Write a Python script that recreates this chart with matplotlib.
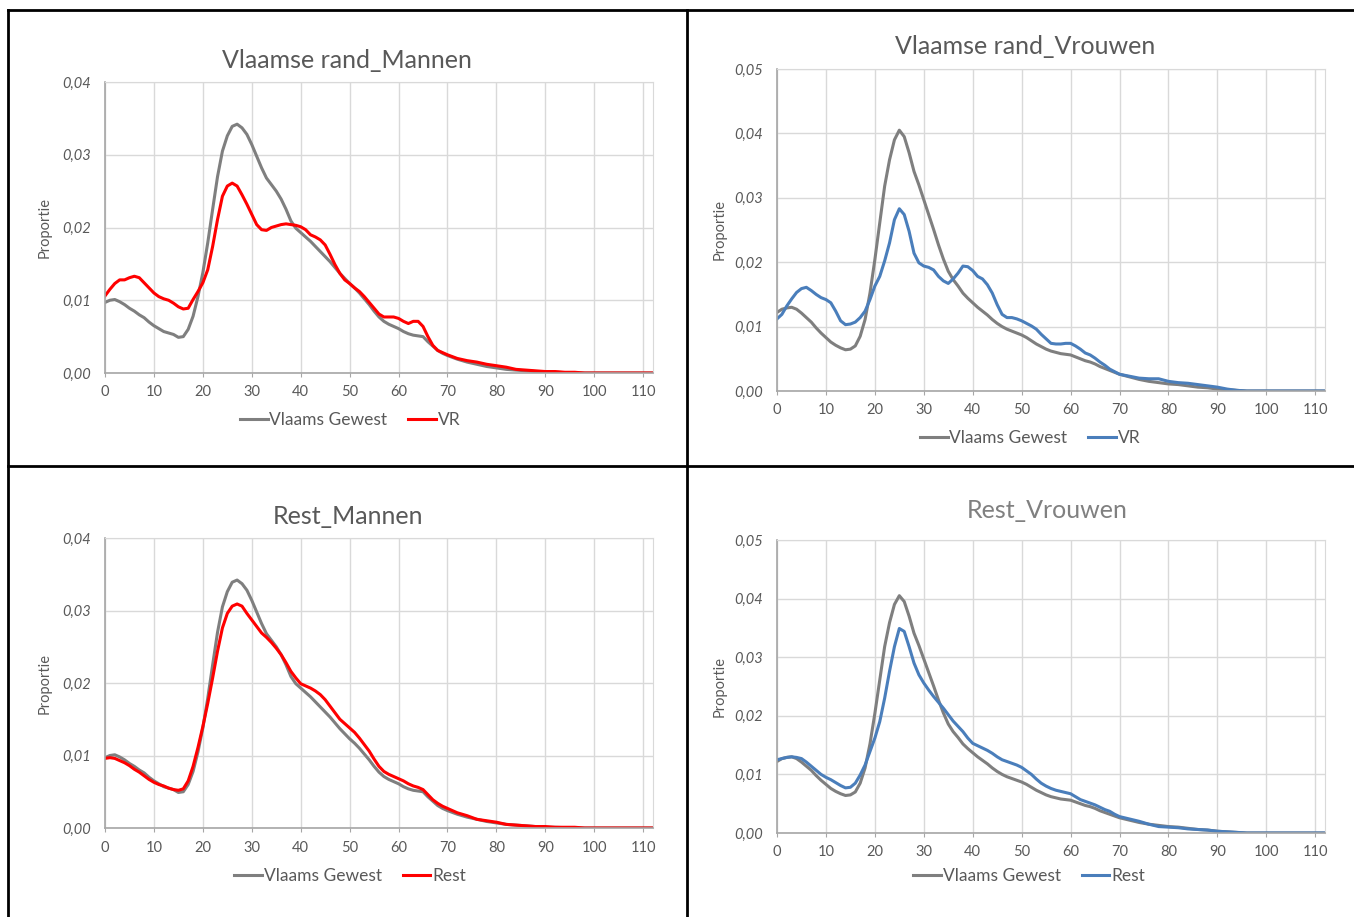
import numpy as np
import matplotlib
matplotlib.use("Agg")
import matplotlib.pyplot as plt
from matplotlib.lines import Line2D
from matplotlib.ticker import FuncFormatter, MultipleLocator

plt.rcParams["font.family"] = ["Lato", "DejaVu Sans"]

# -----------------------------
# Data
# -----------------------------
ages = list(range(0, 71)) + list(range(72, 101, 2)) + [105, 112]

vg_mannen = [
    .0097, .0100, .0101, .0098, .0094, .0089, .0085, .0080, .0076, .0070,
    .0065, .0061, .0057, .0055, .0053, .0049, .0050, .0060, .0078, .0105,
    .0138, .0179, .0225, .0270, .0305, .0326, .0339, .0342, .0337, .0328,
    .0314, .0298, .0282, .0268, .0259, .0250, .0239, .0225, .0209, .0199,
    .0193, .0187, .0181, .0174, .0167, .0160, .0153, .0145, .0137, .0130,
    .0123, .0117, .0110, .0102, .0094, .0085, .0077, .0071, .0067, .0064,
    .0061, .0057, .0054, .0052, .0051, .0050, .0043, .0037, .0031, .0027,
    .0024,
    .0019, .0015, .0012, .0009, .0007, .0005, .0004, .0003, .0002, .0001,
    .0001, .00005, .00003, 0, 0, 0, 0]

vr_mannen = [
    .0106, .0115, .0123, .0128, .0128, .0131, .0133, .0131, .0124, .0117,
    .0110, .0105, .0102, .0100, .0096, .0091, .0088, .0089, .0101, .0112,
    .0124, .0142, .0174, .0211, .0243, .0257, .0261, .0257, .0245, .0232,
    .0218, .0204, .0197, .0196, .0200, .0202, .0204, .0205, .0204, .0203,
    .0201, .0197, .0190, .0187, .0183, .0176, .0163, .0149, .0137, .0128,
    .0123, .0117, .0112, .0105, .0097, .0089, .0081, .0077, .0077, .0077,
    .0075, .0071, .0068, .0071, .0071, .0064, .0050, .0038, .0031, .0028,
    .0025,
    .0020, .0017, .0015, .0012, .0010, .0008, .0005, .0004, .0003, .0002,
    .0002, .0001, .0001, 0, 0, 0, 0]

rest_mannen = [
    .0096, .0097, .0096, .0093, .0090, .0086, .0081, .0077, .0072, .0067,
    .0063, .0060, .0058, .0055, .0053, .0052, .0054, .0065, .0085, .0111,
    .0140, .0172, .0207, .0244, .0276, .0296, .0306, .0309, .0306, .0296,
    .0287, .0278, .0269, .0263, .0256, .0248, .0239, .0228, .0216, .0207,
    .0199, .0196, .0193, .0189, .0184, .0177, .0168, .0159, .0150, .0144,
    .0138, .0132, .0124, .0115, .0106, .0095, .0085, .0078, .0074, .0071,
    .0068, .0065, .0061, .0058, .0056, .0053, .0046, .0039, .0034, .0030,
    .0027,
    .0021, .0017, .0012, .0010, .0008, .0005, .0004, .0003, .0002, .0002,
    .0001, .0001, .0001, 0, 0, 0, 0]

vg_vrouwen = [
    .0122, .0127, .0129, .0130, .0127, .0121, .0114, .0107, .0098, .0090,
    .0083, .0076, .0071, .0067, .0064, .0065, .0070, .0085, .0111, .0152,
    .0204, .0261, .0318, .0359, .0390, .0405, .0395, .0370, .0341, .0320,
    .0297, .0274, .0251, .0227, .0205, .0186, .0173, .0163, .0152, .0144,
    .0137, .0130, .0124, .0118, .0111, .0105, .0100, .0096, .0093, .0090,
    .0087, .0083, .0078, .0073, .0069, .0065, .0062, .0060, .0058, .0057,
    .0056, .0053, .0050, .0047, .0045, .0042, .0038, .0035, .0032, .0029,
    .0026,
    .0022, .0018, .0015, .0013, .0011, .0010, .0008, .0006, .0005, .0003,
    .0002, .0001, 0, 0, 0, 0, 0]

vr_vrouwen = [
    .0112, .0119, .0132, .0143, .0153, .0159, .0161, .0156, .0150, .0145,
    .0142, .0137, .0124, .0109, .0103, .0104, .0107, .0114, .0124, .0142,
    .0163, .0178, .0202, .0230, .0266, .0283, .0274, .0248, .0214, .0199,
    .0194, .0192, .0188, .0178, .0171, .0167, .0174, .0183, .0194, .0193,
    .0187, .0178, .0174, .0165, .0152, .0134, .0119, .0114, .0114, .0112,
    .0109, .0105, .0101, .0096, .0088, .0081, .0074, .0073, .0073, .0074,
    .0074, .0070, .0065, .0059, .0056, .0051, .0045, .0040, .0034, .0030,
    .0026,
    .0023, .0020, .0019, .0019, .0015, .0013, .0012, .0010, .0008, .0006,
    .0003, .0001, 0, 0, 0, 0, 0]

rest_vrouwen = [
    .0125, .0127, .0129, .0130, .0129, .0127, .0121, .0114, .0107, .0100,
    .0095, .0091, .0086, .0081, .0077, .0078, .0085, .0099, .0116, .0139,
    .0162, .0190, .0230, .0276, .0318, .0349, .0344, .0318, .0290, .0270,
    .0256, .0244, .0233, .0223, .0213, .0202, .0191, .0182, .0173, .0162,
    .0153, .0149, .0145, .0141, .0136, .0130, .0125, .0122, .0119, .0116,
    .0112, .0106, .0100, .0092, .0085, .0080, .0076, .0073, .0071, .0069,
    .0067, .0062, .0057, .0054, .0051, .0048, .0044, .0040, .0037, .0032,
    .0028,
    .0024, .0020, .0015, .0011, .0010, .0009, .0007, .0006, .0005, .0003,
    .0002, .0001, 0, 0, 0, 0, 0]

# -----------------------------
# Styling
# -----------------------------
GRAY = "#7f7f7f"
RED = "#ff0000"
BLUE = "#4a7ebb"
TXT = "#595959"
GRID = "#d9d9d9"
AXIS = "#a6a6a6"

fig = plt.figure(figsize=(13.54, 9.17), dpi=100)
W, H = 1354.0, 917.0


def px_rect(x0, x1, ytop, ybot):
    return [x0 / W, 1 - ybot / H, (x1 - x0) / W, (ybot - ytop) / H]


panels = [
    # title, base series, series, label, colour, ymax, axes px, title px, legend px, ylabel x, title colour
    ("Vlaamse rand_Mannen", vg_mannen, vr_mannen, "VR", RED, 0.04,
     (105, 653, 82, 373), (347, 60), (350, 420), 45, TXT),
    ("Vlaamse rand_Vrouwen", vg_vrouwen, vr_vrouwen, "VR", BLUE, 0.05,
     (777, 1325, 69, 391), (1025, 46), (1030, 438), 720, TXT),
    ("Rest_Mannen", vg_mannen, rest_mannen, "Rest", RED, 0.04,
     (105, 653, 538, 828), (348, 516), (350, 876), 45, TXT),
    ("Rest_Vrouwen", vg_vrouwen, rest_vrouwen, "Rest", BLUE, 0.05,
     (777, 1325, 540, 833), (1047, 510), (1029, 876), 720, "#808080"),
]

comma = FuncFormatter(lambda v, pos: f"{v:.2f}".replace(".", ","))

for (title, base, series, lab, col, ymax, box, tpos, lpos, ylx, tcol) in panels:
    x0, x1, yt, yb = box
    ax = fig.add_axes(px_rect(x0, x1, yt, yb))
    l1, = ax.plot(ages, base, color=GRAY, lw=2.2, solid_joinstyle="round")
    l2, = ax.plot(ages, series, color=col, lw=2.2, solid_joinstyle="round")

    ax.set_xlim(0, 112)
    ax.set_ylim(0, ymax)
    ax.xaxis.set_major_locator(MultipleLocator(10))
    ax.yaxis.set_major_locator(MultipleLocator(0.01))
    ax.yaxis.set_major_formatter(comma)
    ax.grid(True, color=GRID, lw=1.0)
    ax.set_axisbelow(True)

    for side in ["top", "right"]:
        ax.spines[side].set_color(GRID)
    for side in ["left", "bottom"]:
        ax.spines[side].set_color(AXIS)
        ax.spines[side].set_linewidth(1.2)

    ax.tick_params(axis="x", colors=AXIS, labelcolor=TXT, labelsize=10.5,
                   length=3, direction="out", pad=6)
    ax.tick_params(axis="y", length=0, labelcolor=TXT, labelsize=10.5, pad=10)
    for t in ax.get_yticklabels():
        t.set_fontstyle("italic")

    fig.text(tpos[0] / W, 1 - tpos[1] / H, title, ha="center", va="center",
             fontsize=18, color=tcol)
    fig.text(ylx / W, 1 - (yt + yb) / 2 / H, "Proportie", rotation=90,
             ha="center", va="center", fontsize=10.5, color=TXT)

    fig.legend([l1, l2], ["Vlaams Gewest", lab], loc="center",
               bbox_to_anchor=(lpos[0] / W, 1 - lpos[1] / H), ncol=2,
               frameon=False, fontsize=12.5, labelcolor=TXT,
               handlelength=1.6, handletextpad=0.1, columnspacing=1.2)

# table-like borders around the four charts
border_kw = dict(color="black", lw=2.0, transform=fig.transFigure)
fig.add_artist(Line2D([8 / W, 8 / W], [0, 1 - 10 / H], **border_kw))
fig.add_artist(Line2D([687 / W, 687 / W], [0, 1 - 10 / H], **border_kw))
fig.add_artist(Line2D([8 / W, 1], [1 - 10 / H, 1 - 10 / H], **border_kw))
fig.add_artist(Line2D([8 / W, 1], [1 - 466 / H, 1 - 466 / H], **border_kw))

fig.savefig("out.png", dpi=100)
